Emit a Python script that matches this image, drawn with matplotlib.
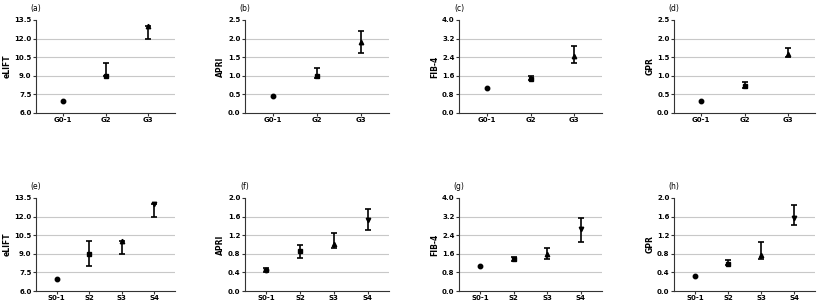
import numpy as np
import matplotlib
matplotlib.use("Agg")
from matplotlib import pyplot as plt

# medians with lower / upper quartiles
grade_cats = ["G0-1", "G2", "G3"]
stage_cats = ["S0-1", "S2", "S3", "S4"]

elift_g = [7.0, 9.0, 13.0]
elift_g_lo = [7.0, 9.0, 12.0]
elift_g_hi = [7.0, 10.0, 13.0]

apri_g = [0.45, 1.0, 1.9]
apri_g_lo = [0.45, 0.95, 1.6]
apri_g_hi = [0.45, 1.2, 2.2]

fib4_g = [1.08, 1.48, 2.45]
fib4_g_lo = [1.08, 1.4, 2.15]
fib4_g_hi = [1.08, 1.6, 2.9]

gpr_g = [0.32, 0.72, 1.58]
gpr_g_lo = [0.32, 0.68, 1.5]
gpr_g_hi = [0.32, 0.82, 1.75]

elift_s = [7.0, 9.0, 10.0, 13.0]
elift_s_lo = [7.0, 8.0, 9.0, 12.0]
elift_s_hi = [7.0, 10.0, 10.0, 13.0]

apri_s = [0.45, 0.85, 1.02, 1.52]
apri_s_lo = [0.4, 0.72, 0.92, 1.32]
apri_s_hi = [0.5, 0.98, 1.24, 1.77]

fib4_s = [1.08, 1.36, 1.58, 2.65]
fib4_s_lo = [1.08, 1.28, 1.38, 2.1]
fib4_s_hi = [1.08, 1.45, 1.85, 3.12]

gpr_s = [0.33, 0.58, 0.78, 1.58]
gpr_s_lo = [0.33, 0.55, 0.68, 1.42]
gpr_s_hi = [0.33, 0.66, 1.06, 1.86]

markers = ["o", "s", "^", "v"]

panels = [
    ("(a)", "eLIFT", grade_cats, elift_g, elift_g_lo, elift_g_hi, 6.0, 13.5, 1.5),
    ("(b)", "APRI", grade_cats, apri_g, apri_g_lo, apri_g_hi, 0.0, 2.5, 0.5),
    ("(c)", "FIB-4", grade_cats, fib4_g, fib4_g_lo, fib4_g_hi, 0.0, 4.0, 0.8),
    ("(d)", "GPR", grade_cats, gpr_g, gpr_g_lo, gpr_g_hi, 0.0, 2.5, 0.5),
    ("(e)", "eLIFT", stage_cats, elift_s, elift_s_lo, elift_s_hi, 6.0, 13.5, 1.5),
    ("(f)", "APRI", stage_cats, apri_s, apri_s_lo, apri_s_hi, 0.0, 2.0, 0.4),
    ("(g)", "FIB-4", stage_cats, fib4_s, fib4_s_lo, fib4_s_hi, 0.0, 4.0, 0.8),
    ("(h)", "GPR", stage_cats, gpr_s, gpr_s_lo, gpr_s_hi, 0.0, 2.0, 0.4),
]

W, H = 825, 308
fig = plt.figure(figsize=(W / 100, H / 100), dpi=100)

cols = [(36, 175), (245, 389), (459, 602), (674, 815)]
rows = [(20, 113), (198, 291)]

for i, (tag, ylab, cats, med, lo, hi, y0, y1, step) in enumerate(panels):
    r, c = divmod(i, 4)
    left, right = cols[c]
    top, bottom = rows[r]
    ax = fig.add_axes([left / W, 1 - bottom / H, (right - left) / W, (bottom - top) / H])

    ticks = np.arange(y0, y1 + step / 2, step)
    for t in ticks[1:-1]:
        ax.axhline(t, color="#c8c8c8", lw=0.8, zorder=0)

    x = np.arange(len(cats))
    for j in range(len(cats)):
        m = med[j]
        if hi[j] > lo[j]:
            ax.errorbar(x[j], m, yerr=[[m - lo[j]], [hi[j] - m]], fmt=markers[j],
                        color="black", ms=3.2, capsize=2, elinewidth=1.2, capthick=1.2)
        else:
            ax.plot(x[j], m, marker=markers[j], color="black", ms=3.2, ls="none")

    ax.set_xlim(-0.63, len(cats) - 1 + 0.63)
    ax.set_ylim(y0, y1)
    ax.set_yticks(ticks)
    ax.set_yticklabels(["%.1f" % t for t in ticks])
    ax.set_xticks(x)
    ax.set_xticklabels(cats)
    for s in ["top", "right"]:
        ax.spines[s].set_visible(False)
    for s in ["left", "bottom"]:
        ax.spines[s].set_linewidth(0.8)
        ax.spines[s].set_color("#333333")
    ax.tick_params(axis="both", length=2, width=0.8, pad=1.2, labelsize=5, color="#333333")
    for lbl in ax.get_xticklabels() + ax.get_yticklabels():
        lbl.set_fontweight("bold")
    ax.set_ylabel(ylab, fontsize=5.5, fontweight="bold", labelpad=2)
    ax.text(0.0, 1.07, tag, transform=ax.transAxes, fontsize=5.5, ha="center", va="bottom")

fig.savefig("out.png", dpi=100)
